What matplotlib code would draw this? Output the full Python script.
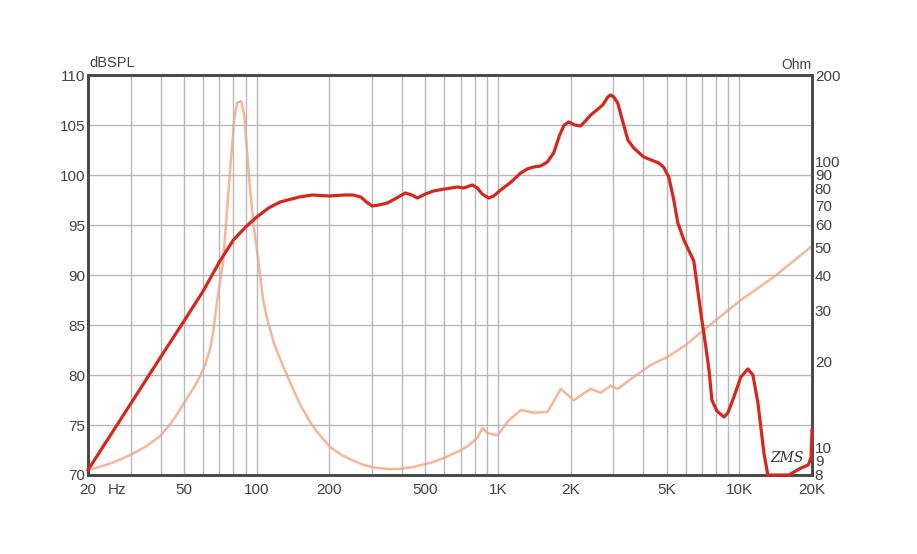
import matplotlib
matplotlib.use("Agg")
import matplotlib.pyplot as plt

plt.rcParams['font.family'] = ['Liberation Sans', 'DejaVu Sans']

# SPL response (Hz, dB)
spl_freq = [20, 30, 40, 50, 60, 70, 80, 90, 100, 112, 125, 150, 170, 200, 230, 250,
            270, 285, 301, 320, 348, 380, 413, 440, 463, 500, 540, 600, 680, 720,
            760, 784, 820, 860, 914, 960, 1025, 1120, 1242, 1320, 1404, 1500, 1600,
            1700, 1800, 1880, 1964, 2080, 2199, 2300, 2421, 2716, 2850, 2930, 3020,
            3133, 3300, 3451, 3650, 4015, 4637, 4850, 5100, 5350, 5560, 5890, 6474,
            6925, 7264, 7486, 7693, 8070, 8630, 8960, 9490, 10140, 10850, 11380,
            11940, 12640, 13120, 16070, 16830, 18000, 19300, 19830, 20000]
spl_db = [70.5, 77.1, 81.8, 85.4, 88.4, 91.3, 93.5, 94.8, 95.8, 96.7, 97.3, 97.8,
          98.0, 97.9, 98.0, 98.0, 97.8, 97.3, 96.9, 97.0, 97.2, 97.7, 98.2, 98.0,
          97.7, 98.1, 98.4, 98.6, 98.8, 98.7, 98.9, 99.0, 98.7, 98.1, 97.7, 97.9,
          98.5, 99.2, 100.2, 100.6, 100.8, 100.9, 101.3, 102.2, 104.0, 105.0, 105.3,
          105.0, 104.9, 105.4, 106.0, 107.0, 107.8, 108.0, 107.8, 107.2, 105.2,
          103.5, 102.7, 101.8, 101.2, 100.8, 99.8, 97.5, 95.2, 93.5, 91.4, 86.2,
          82.8, 80.5, 77.5, 76.4, 75.8, 76.2, 77.8, 79.8, 80.6, 80.0, 77.2, 72.2,
          70.0, 70.0, 70.3, 70.7, 71.0, 71.8, 74.5]

# Impedance (Hz, Ohm)
imp_freq = [20, 25, 30, 35, 40, 45, 50, 55, 58, 61, 64, 66, 68.6, 72.7, 76.9, 80.7,
            83, 86.3, 88.8, 93.1, 97, 101.5, 104, 106.4, 110, 118, 129, 140, 152,
            165, 178, 202, 225, 250, 275, 305, 350, 394, 450, 540, 600, 680, 750,
            822, 863, 905, 995, 1096, 1242, 1420, 1606, 1819, 2058, 2421, 2662,
            2930, 3133, 3650, 4293, 5048, 6000, 7125, 8500, 10140, 13910, 20000]
imp_ohm = [8.3, 8.8, 9.4, 10.1, 11.0, 12.4, 14.3, 16.2, 17.6, 19.3, 22.0, 25.1,
           32.7, 45, 85, 140, 160, 162, 145, 86, 60, 45, 38, 32.7, 28.5, 23.0, 19.1,
           16.3, 14.0, 12.4, 11.3, 10.0, 9.4, 9.0, 8.7, 8.5, 8.4, 8.4, 8.55, 8.88,
           9.2, 9.63, 10.1, 10.8, 11.7, 11.2, 11.0, 12.3, 13.5, 13.2, 13.3, 16.0,
           14.6, 16.0, 15.5, 16.4, 16.0, 17.6, 19.4, 20.7, 22.8, 25.7, 29.0, 32.7,
           39.4, 50.5]

x_ticks = [20, 50, 100, 200, 500, 1000, 2000, 5000, 10000, 20000]
x_labels = ['20', '50', '100', '200', '500', '1K', '2K', '5K', '10K', '20K']
x_grid = [30, 40, 50, 60, 70, 80, 90, 100, 200, 300, 400, 500, 600, 700, 800, 900,
          1000, 2000, 3000, 4000, 5000, 6000, 7000, 8000, 9000, 10000]
db_ticks = [70, 75, 80, 85, 90, 95, 100, 105, 110]
ohm_ticks = [8, 9, 10, 20, 30, 40, 50, 60, 70, 80, 90, 100, 200]

txt = '#444444'
fig = plt.figure(figsize=(9.17, 5.54), dpi=100)
ax = fig.add_axes([0.096, 0.1426, 0.7895, 0.722])
ax2 = ax.twinx()

ax.set_xscale('log')
ax.set_xlim(20, 20000)
ax.set_ylim(70, 110)
for f in x_grid:
    ax.axvline(f, color='#b8b8b8', lw=1.0, zorder=0)
for d in db_ticks[1:-1]:
    ax.axhline(d, color='#b8b8b8', lw=1.0, zorder=0)

ax2.set_yscale('log')
ax2.set_ylim(8, 200)
ax2.plot(imp_freq, imp_ohm, color='#f6b697', lw=1.8, solid_joinstyle='round')
ax.plot(spl_freq, spl_db, color='#d9261c', lw=2.3, solid_joinstyle='round',
        clip_on=False, zorder=3)
ax.set_zorder(ax2.get_zorder() + 1)
ax.patch.set_visible(False)

ax.set_xticks(x_ticks)
ax.set_xticklabels(x_labels)
ax.xaxis.set_minor_locator(matplotlib.ticker.NullLocator())
ax.set_yticks(db_ticks)
ax2.set_yticks(ohm_ticks)
ax2.set_yticklabels([str(t) for t in ohm_ticks])
ax2.yaxis.set_minor_locator(matplotlib.ticker.NullLocator())
ax.tick_params(axis='both', length=0, labelsize=11, labelcolor=txt)
ax.tick_params(axis='x', pad=6)
ax.tick_params(axis='y', pad=2)
ax2.tick_params(axis='y', length=0, labelsize=11, labelcolor=txt, pad=2)

for a in (ax, ax2):
    for s in a.spines.values():
        s.set_color('#4a4a4a')
        s.set_linewidth(2)

ax.text(26.5, -0.021, 'Hz', transform=ax.get_xaxis_transform(), ha='center',
        va='top', fontsize=11, color=txt)
ax.text(0.002, 1.012, 'dBSPL', transform=ax.transAxes, ha='left', va='bottom',
        fontsize=10.5, color=txt)
ax.text(0.999, 1.008, 'Ohm', transform=ax.transAxes, ha='right', va='bottom',
        fontsize=10, color=txt)
ax.text(15800, 71.7, 'ZMS', ha='center', va='center', fontsize=10, color='#333333',
        style='italic', family='DejaVu Serif', zorder=5)

fig.savefig('out.png', dpi=100, facecolor='white')
